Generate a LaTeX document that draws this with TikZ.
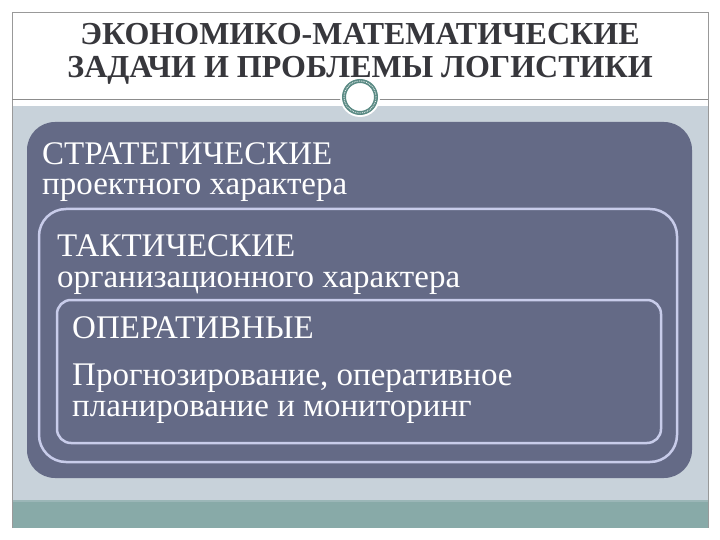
\documentclass[tikz,border=0pt]{standalone}
\usepackage{fontspec}
\setmainfont{Liberation Serif}
\definecolor{darkbox}{RGB}{100,106,134}
\definecolor{graybg}{RGB}{200,210,218}
\definecolor{tealband}{RGB}{136,170,168}
\definecolor{lav}{RGB}{200,204,234}
\definecolor{ringc}{RGB}{90,138,132}
\definecolor{titlec}{RGB}{55,55,60}
\tikzset{
  bodytxt/.style={anchor=base west, inner sep=0pt, text=white, font=\fontsize{33}{35}\selectfont},
  titletxt/.style={anchor=base, inner sep=0pt, text=titlec, font=\fontsize{32}{34}\selectfont\bfseries},
  frameline/.style={draw=lav, line width=2.5pt}
}
\begin{document}
\begin{tikzpicture}[x=1pt,y=-1pt]
\useasboundingbox (0,0) rectangle (720,540);
\fill[white] (0,0) rectangle (720,540);
% background bands
\fill[graybg] (12,106) rectangle (708,500);
\fill[tealband!70!graybg] (12,500) rectangle (708,502);
\fill[tealband] (12,502) rectangle (708,528);
% border
\draw[gray!80, line width=0.8pt] (12,528) -- (12,12) -- (708,12) -- (708,528);
\draw[gray!90, line width=0.8pt] (12,99) -- (708,99);
% circle ornament
\node[circle, minimum size=40pt, fill=white, inner sep=0pt] (orn) at (360,97) {};
\draw[ringc, line width=4pt] (orn.center) circle (16pt);
\draw[white, line width=0.8pt, densely dotted] (orn.center) circle (16pt);
% title
\node[titletxt] (t1) at (360,45) {ЭКОНОМИКО-МАТЕМАТИЧЕСКИЕ};
\node[titletxt] (t2) at (360,78) {ЗАДАЧИ И ПРОБЛЕМЫ ЛОГИСТИКИ};
% boxes
\fill[darkbox, rounded corners=28pt] (27,122) rectangle (692,478);
\draw[frameline, rounded corners=27pt] (39,209) rectangle (677,462);
\draw[frameline, rounded corners=14pt] (57,300) rectangle (661,443);
% texts
\node[bodytxt] (a1) at (42,165) {СТРАТЕГИЧЕСКИЕ};
\node[bodytxt] (a2) at (42,195) {проектного характера};
\node[bodytxt] (b1) at (57,256) {ТАКТИЧЕСКИЕ};
\node[bodytxt] (b2) at (57,287) {организационного характера};
\node[bodytxt] (c1) at (72,338) {ОПЕРАТИВНЫЕ};
\node[bodytxt] (c2) at (72,385) {Прогнозирование, оперативное};
\node[bodytxt] (c3) at (72,416) {планирование и мониторинг};
\end{tikzpicture}
\end{document}
